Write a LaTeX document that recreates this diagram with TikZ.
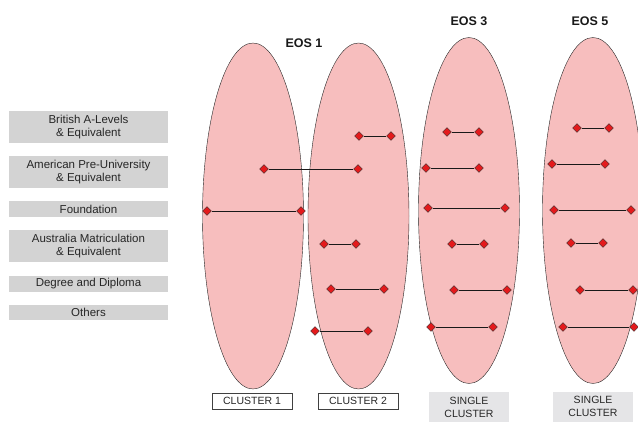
\documentclass[tikz,border=0pt]{standalone}
\usepackage{fontspec}
\setmainfont{Liberation Sans}
\usetikzlibrary{shapes.geometric}
\definecolor{blobpink}{HTML}{F7BEBE}
\definecolor{dotred}{HTML}{E31A1C}
\definecolor{qualgray}{HTML}{D3D3D3}
\definecolor{singlegray}{HTML}{E5E5E7}

\begin{document}
\begin{tikzpicture}[x=1pt,y=-1pt,
	blob/.style={ellipse,draw=black!85,fill=blobpink,minimum width=101pt,minimum height=346pt,inner sep=0pt},
	pt/.style={diamond,draw=black!80,fill=dotred,minimum width=9pt,minimum height=9pt,inner sep=0pt},
	link/.style={thick,black!90},
	qual/.style={fill=qualgray,text=black!85,minimum width=159pt,minimum height=16pt,inner sep=1pt,align=center,font=\fontsize{11.5}{13}\selectfont},
	clus/.style={draw=black!75,fill=white,text=black!85,minimum width=80pt,minimum height=16pt,inner sep=1pt,font=\fontsize{10.5}{13}\selectfont},
	single/.style={fill=singlegray,text=black!85,minimum width=80pt,minimum height=30pt,inner sep=1pt,align=center,font=\fontsize{10.5}{13}\selectfont},
	eos/.style={font=\fontsize{12.5}{15}\selectfont\bfseries,text=black!90}]
	\useasboundingbox (0,0) rectangle (638,421);
	\clip (0,0) rectangle (638,421);

	% qualification boxes
	\node (british) [qual,minimum height=32pt] at (88.5,127) {British A-Levels\\\& Equivalent};
	\node (american) [qual,minimum height=32pt] at (88.5,172) {American Pre-University\\\& Equivalent};
	\node (foundation) [qual] at (88.5,209) {Foundation};
	\node (australia) [qual,minimum height=32pt] at (88.5,246) {Australia Matriculation\\\& Equivalent};
	\node (degree) [qual] at (88.5,284) {Degree and Diploma};
	\node (others) [qual,minimum height=15pt] at (88.5,312.5) {Others};

	% clusters
	\node (blob1) [blob] at (253,216) {};
	\node (blob2) [blob] at (358.5,216) {};
	\node (blob3) [blob] at (469,210.5) {};
	\node (blob5) [blob] at (593,210.5) {};

	\node (eos1) [eos] at (304,43) {EOS 1};
	\node (eos3) [eos] at (469,21) {EOS 3};
	\node (eos5) [eos] at (590,21) {EOS 5};

	% EOS 1
	\node (a1) [pt] at (359,136) {}; \node (a2) [pt] at (391,136) {};
	\node (b1) [pt] at (264,169) {}; \node (b2) [pt] at (358,169) {};
	\node (c1) [pt] at (207,211) {}; \node (c2) [pt] at (301,211) {};
	\node (d1) [pt] at (324,244) {}; \node (d2) [pt] at (356,244) {};
	\node (e1) [pt] at (331,289) {}; \node (e2) [pt] at (384,289) {};
	\node (f1) [pt] at (315,331) {}; \node (f2) [pt] at (368,331) {};
	\draw [link] (a1) -- (a2);
	\draw [link] (b1) -- (b2);
	\draw [link] (c1) -- (c2);
	\draw [link] (d1) -- (d2);
	\draw [link] (e1) -- (e2);
	\draw [link] (f1) -- (f2);

	% EOS 3
	\node (g1) [pt] at (447,132) {}; \node (g2) [pt] at (479,132) {};
	\node (h1) [pt] at (426,168) {}; \node (h2) [pt] at (479,168) {};
	\node (i1) [pt] at (428,208) {}; \node (i2) [pt] at (505,208) {};
	\node (j1) [pt] at (452,244) {}; \node (j2) [pt] at (484,244) {};
	\node (k1) [pt] at (454,290) {}; \node (k2) [pt] at (507,290) {};
	\node (l1) [pt] at (431,327) {}; \node (l2) [pt] at (493,327) {};
	\draw [link] (g1) -- (g2);
	\draw [link] (h1) -- (h2);
	\draw [link] (i1) -- (i2);
	\draw [link] (j1) -- (j2);
	\draw [link] (k1) -- (k2);
	\draw [link] (l1) -- (l2);

	% EOS 5
	\node (m1) [pt] at (577,128) {}; \node (m2) [pt] at (609,128) {};
	\node (n1) [pt] at (552,164) {}; \node (n2) [pt] at (605,164) {};
	\node (o1) [pt] at (554,210) {}; \node (o2) [pt] at (631,210) {};
	\node (p1) [pt] at (571,243) {}; \node (p2) [pt] at (603,243) {};
	\node (q1) [pt] at (580,290) {}; \node (q2) [pt] at (633,290) {};
	\node (r1) [pt] at (563,327) {}; \node (r2) [pt] at (634,327) {};
	\draw [link] (m1) -- (m2);
	\draw [link] (n1) -- (n2);
	\draw [link] (o1) -- (o2);
	\draw [link] (p1) -- (p2);
	\draw [link] (q1) -- (q2);
	\draw [link] (r1) -- (r2);

	% labels below
	\node (lab1) [clus] at (252,401) {CLUSTER 1};
	\node (lab2) [clus] at (358,401) {CLUSTER 2};
	\node (lab3) [single] at (469,407) {SINGLE\\CLUSTER};
	\node (lab5) [single] at (593,406.5) {SINGLE\\CLUSTER};
\end{tikzpicture}
\end{document}
